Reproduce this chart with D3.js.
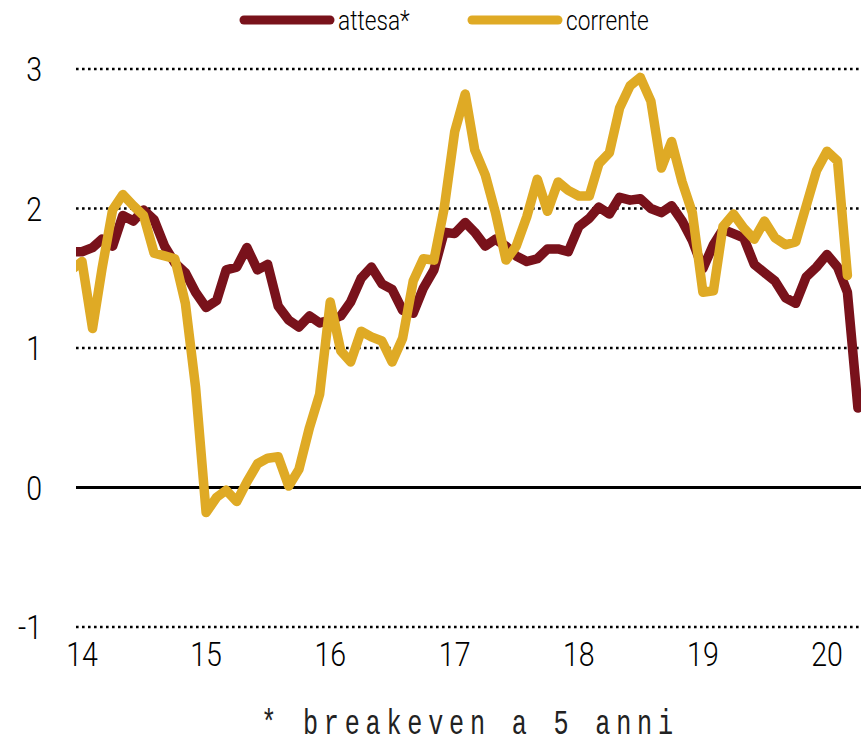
<!DOCTYPE html>
<html>
<head>
<meta charset="utf-8">
<script src="https://cdn.jsdelivr.net/npm/d3@7"></script>
<style>
  html, body { margin: 0; padding: 0; background: #fff; }
  svg { display: block; }
  .lbl { font-family: Roboto, "Liberation Sans", sans-serif; font-weight: 300; fill: #000; }
  .note { font-family: "Liberation Mono", "DejaVu Sans Mono", monospace; fill: #222; }
</style>
</head>
<body>
<div id="chart"></div>
<script>
// monthly data, Dec 2013 .. Apr 2020
const startMonth = new Date(2013, 11, 1);

// breakeven a 5 anni (expected)
const attesa = [
  1.69, 1.69, 1.72, 1.78, 1.73, 1.95, 1.91, 1.99, 1.92, 1.73, 1.61, 1.54, 1.40,
  1.29, 1.34, 1.56, 1.58, 1.72, 1.56, 1.60, 1.30, 1.20, 1.15, 1.23, 1.18,
  1.20, 1.23, 1.33, 1.50, 1.58, 1.46, 1.42, 1.27, 1.25, 1.43, 1.56, 1.83,
  1.82, 1.90, 1.83, 1.73, 1.78, 1.73, 1.66, 1.62, 1.64, 1.71, 1.71, 1.69,
  1.87, 1.93, 2.01, 1.96, 2.08, 2.06, 2.07, 2.00, 1.97, 2.02, 1.91, 1.77,
  1.57, 1.74, 1.85, 1.82, 1.79, 1.60, 1.54, 1.48, 1.36, 1.32, 1.51, 1.58,
  1.67, 1.58, 1.40, 0.57
];

// current inflation
const corrente = [
  1.56, 1.62, 1.14, 1.57, 1.99, 2.10, 2.02, 1.95, 1.68, 1.66, 1.64, 1.32, 0.72,
  -0.18, -0.07, -0.02, -0.10, 0.04, 0.17, 0.21, 0.22, 0.01, 0.13, 0.43, 0.67,
  1.33, 0.98, 0.90, 1.12, 1.08, 1.05, 0.90, 1.07, 1.48, 1.64, 1.63, 2.00,
  2.55, 2.82, 2.42, 2.24, 1.97, 1.63, 1.73, 1.94, 2.21, 1.98, 2.19, 2.13,
  2.09, 2.09, 2.32, 2.40, 2.72, 2.88, 2.94, 2.77, 2.29, 2.48, 2.19, 1.97,
  1.40, 1.41, 1.87, 1.96, 1.86, 1.78, 1.91, 1.79, 1.74, 1.76, 2.02, 2.27,
  2.41, 2.34, 1.52
];

const yTicks = [-1, 0, 1, 2, 3];
const xYears = [2014, 2015, 2016, 2017, 2018, 2019, 2020];

const W = 861, H = 745;
const plotLeft = 76, plotRight = 861;
const squeeze = 0.84; // condensed look for the labels

const svg = d3.select('#chart').append('svg')
  .attr('width', W)
  .attr('height', H);

const x = d3.scaleTime()
  .domain([new Date(2014, 0, 1), new Date(2020, 0, 1)])
  .range([82, 827]);

const y = d3.scaleLinear()
  .domain([-1, 3])
  .range([627, 69]);

const toSeries = vals => vals.map((v, i) => ({ date: d3.timeMonth.offset(startMonth, i), value: v }));

// grid lines
svg.append('g')
  .selectAll('line')
  .data(yTicks)
  .enter()
  .append('line')
  .attr('x1', plotLeft)
  .attr('x2', plotRight)
  .attr('y1', d => y(d))
  .attr('y2', d => y(d))
  .attr('stroke', '#000')
  .attr('stroke-width', d => d === 0 ? 3 : 2.6)
  .attr('stroke-dasharray', d => d === 0 ? null : '2.6,3.4');

// y labels
svg.append('g')
  .selectAll('text')
  .data(yTicks)
  .enter()
  .append('text')
  .attr('class', 'lbl')
  .attr('transform', d => `translate(42,${y(d)}) scale(${squeeze},1)`)
  .attr('dy', '0.36em')
  .attr('text-anchor', 'end')
  .attr('font-size', 34)
  .text(d => d);

// x labels
svg.append('g')
  .selectAll('text')
  .data(xYears)
  .enter()
  .append('text')
  .attr('class', 'lbl')
  .attr('transform', d => `translate(${x(new Date(d, 0, 1))},666) scale(${squeeze},1)`)
  .attr('text-anchor', 'middle')
  .attr('font-size', 34)
  .text(d => String(d).slice(2));

svg.append('clipPath')
  .attr('id', 'plot-clip')
  .append('rect')
  .attr('x', plotLeft)
  .attr('y', 0)
  .attr('width', plotRight - plotLeft)
  .attr('height', H);

const line = d3.line()
  .x(d => x(d.date))
  .y(d => y(d.value));

const series = [
  { name: 'attesa*', color: '#79121b', values: attesa },
  { name: 'corrente', color: '#dfaa25', values: corrente }
];

const lines = svg.append('g').attr('clip-path', 'url(#plot-clip)');
series.forEach(s => {
  lines.append('path')
    .datum(toSeries(s.values))
    .attr('fill', 'none')
    .attr('stroke', s.color)
    .attr('stroke-width', 9.5)
    .attr('stroke-linejoin', 'round')
    .attr('stroke-linecap', 'round')
    .attr('d', line);
});

// legend
const legendX = [244, 472];
series.forEach((s, i) => {
  const g = svg.append('g').attr('transform', `translate(${legendX[i]},20)`);
  g.append('line')
    .attr('x1', 0).attr('x2', 86)
    .attr('stroke', s.color)
    .attr('stroke-width', 9)
    .attr('stroke-linecap', 'round');
  g.append('text')
    .attr('class', 'lbl')
    .attr('transform', `translate(94,10) scale(${squeeze},1)`)
    .attr('font-size', 27)
    .text(s.name);
});

// footnote
svg.append('text')
  .attr('class', 'note')
  .attr('transform', 'translate(470,734) scale(0.72,1)')
  .attr('text-anchor', 'middle')
  .attr('font-size', 35)
  .attr('letter-spacing', 8)
  .text('* breakeven a 5 anni');
</script>
</body>
</html>
